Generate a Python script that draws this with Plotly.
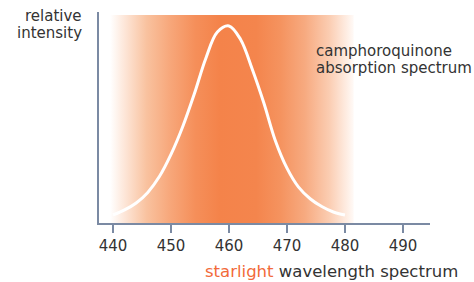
import plotly.graph_objects as go

# Data
wavelength = [440, 442, 444, 446, 448, 450, 452, 454, 456, 458, 460,
              462, 464, 466, 468, 470, 472, 474, 476, 478, 480]
intensity = [0.038, 0.062, 0.095, 0.145, 0.22, 0.325, 0.455, 0.61, 0.78, 0.905, 0.934,
             0.87, 0.73, 0.57, 0.39, 0.26, 0.17, 0.115, 0.078, 0.052, 0.038]
band_x = [439.5, 481.5, 481.5, 439.5, 439.5]
band_y = [0, 0, 0.986, 0.986, 0]
tick_vals = [440, 450, 460, 470, 480, 490]
tick_text = ["440", "450", "460", "470", "480", "490"]

FONT = "DejaVu Sans, Verdana, sans-serif"
TXT = "#333333"
AX = "#7b8aa3"

fig = go.Figure()

fig.add_trace(go.Scatter(
    x=band_x, y=band_y, mode="none", fill="toself",
    fillgradient=dict(
        type="horizontal", start=439.5, stop=481.5,
        colorscale=[
            [0.0, "#ffffff"],
            [0.06, "#fde6d8"],
            [0.15, "#f9c29f"],
            [0.25, "#f7a679"],
            [0.35, "#f58f5a"],
            [0.45, "#f4834a"],
            [0.6, "#f4854d"],
            [0.7, "#f5935f"],
            [0.8, "#f7aa80"],
            [0.9, "#fbcdb2"],
            [1.0, "#fffaf7"],
        ],
    ),
    hoverinfo="skip", showlegend=False,
))

fig.add_trace(go.Scatter(
    x=wavelength, y=intensity, mode="lines",
    line=dict(color="white", width=3, shape="spline", smoothing=1.0),
    showlegend=False,
))

fig.update_layout(
    width=474, height=282,
    margin=dict(l=99, r=44, t=12, b=59),
    paper_bgcolor="white", plot_bgcolor="white",
    font=dict(family=FONT, size=15, color=TXT),
    xaxis=dict(
        range=[437.59, 494.66], showgrid=False, zeroline=False,
        showline=True, linecolor=AX, linewidth=2,
        ticks="outside", ticklen=8, tickwidth=2, tickcolor=AX,
        tickvals=tick_vals, ticktext=tick_text,
        tickfont=dict(family=FONT, size=15, color=TXT),
    ),
    yaxis=dict(
        range=[0, 1], showgrid=False, zeroline=False,
        showline=True, linecolor=AX, linewidth=2,
        showticklabels=False, ticks="",
    ),
)

ann = dict(showarrow=False, font=dict(family=FONT, size=15, color=TXT))
fig.add_annotation(text="relative", xref="paper", yref="paper",
                   x=(84 - 99) / 331, y=(223 - 16) / 211,
                   xanchor="right", yanchor="middle", **ann)
fig.add_annotation(text="intensity", xref="paper", yref="paper",
                   x=(84 - 99) / 331, y=(223 - 33) / 211,
                   xanchor="right", yanchor="middle", **ann)
fig.add_annotation(text="camphoroquinone", xref="paper", yref="paper",
                   x=(314 - 99) / 331, y=(223 - 51) / 211,
                   xanchor="left", yanchor="middle", **ann)
fig.add_annotation(text="absorption spectrum", xref="paper", yref="paper",
                   x=(314 - 99) / 331, y=(223 - 67.5) / 211,
                   xanchor="left", yanchor="middle", **ann)
fig.add_annotation(
    text='<span style="color:#f26a3a">starlight</span> wavelength spectrum',
    xref="paper", yref="paper",
    x=(460 - 99) / 331, y=(223 - 271) / 211,
    xanchor="right", yanchor="middle", showarrow=False,
    font=dict(family=FONT, size=16.5, color=TXT))

fig.write_html(
    "out.html",
    config={"displayModeBar": False},
    post_script="document.body.style.margin='0';document.body.style.overflow='hidden';",
)
